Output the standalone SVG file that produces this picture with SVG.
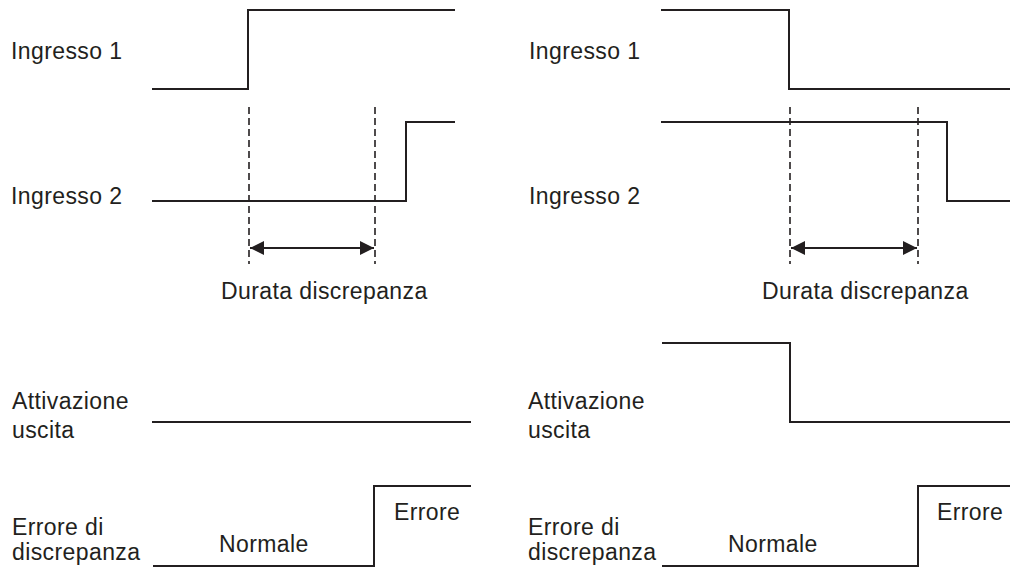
<svg xmlns="http://www.w3.org/2000/svg" width="1011" height="569" viewBox="0 0 1011 569">
<style>
.sig{fill:none;stroke:#231f20;stroke-width:2;stroke-linejoin:miter}
.dash{fill:none;stroke:#231f20;stroke-width:1.6;stroke-dasharray:7 4}
.dim{fill:none;stroke:#231f20;stroke-width:2}
.lbl{font-family:"Liberation Sans",Arial,sans-serif;font-size:23px;letter-spacing:0.4px;fill:#231f20}
</style>
<defs>
<marker id="ah" viewBox="0 0 14 14" refX="14" refY="7" markerWidth="14" markerHeight="14" markerUnits="userSpaceOnUse" orient="auto-start-reverse">
<path d="M0,0 L14,7 L0,14 Z" fill="#231f20"/>
</marker>
</defs>
<rect width="1011" height="569" fill="#fff"/>
<g id="labels">
<text class="lbl" x="11" y="59">Ingresso 1</text>
<text class="lbl" x="11" y="204">Ingresso 2</text>
<text class="lbl" x="221" y="299">Durata discrepanza</text>
<text class="lbl" x="12" y="409">Attivazione</text>
<text class="lbl" x="12" y="438">uscita</text>
<text class="lbl" x="12" y="535">Errore di</text>
<text class="lbl" x="12" y="560">discrepanza</text>
<text class="lbl" x="219" y="552">Normale</text>
<text class="lbl" x="394" y="520">Errore</text>
<text class="lbl" x="529" y="59">Ingresso 1</text>
<text class="lbl" x="529" y="204">Ingresso 2</text>
<text class="lbl" x="762" y="299">Durata discrepanza</text>
<text class="lbl" x="528" y="409">Attivazione</text>
<text class="lbl" x="528" y="438">uscita</text>
<text class="lbl" x="528" y="535">Errore di</text>
<text class="lbl" x="528" y="560">discrepanza</text>
<text class="lbl" x="728" y="552">Normale</text>
<text class="lbl" x="937" y="520">Errore</text>
</g>
<g id="left-signals">
<polyline id="l-in1" class="sig" points="152,89 248,89 248,10 455,10"/>
<polyline id="l-in2" class="sig" points="152,201 406,201 406,122 455,122"/>
<polyline id="l-out" class="sig" points="152,422 471,422"/>
<polyline id="l-err" class="sig" points="153,566 374,566 374,486 471,486"/>
</g>
<g id="right-signals">
<polyline id="r-in1" class="sig" points="661,10 789,10 789,89 1010,89"/>
<polyline id="r-in2" class="sig" points="661,122 947,122 947,201 1010,201"/>
<polyline id="r-out" class="sig" points="662,343 790,343 790,422 1010,422"/>
<polyline id="r-err" class="sig" points="662,566 918,566 918,486 1010,486"/>
</g>
<g id="connectors">
<line class="dash" x1="249" y1="107" x2="249" y2="264"/>
<line class="dash" x1="375" y1="107" x2="375" y2="264"/>
<line class="dim" x1="250" y1="248" x2="374" y2="248" marker-start="url(#ah)" marker-end="url(#ah)"/>
<line class="dash" x1="790" y1="107" x2="790" y2="264"/>
<line class="dash" x1="918" y1="107" x2="918" y2="264"/>
<line class="dim" x1="791" y1="248" x2="917" y2="248" marker-start="url(#ah)" marker-end="url(#ah)"/>
</g>
</svg>
